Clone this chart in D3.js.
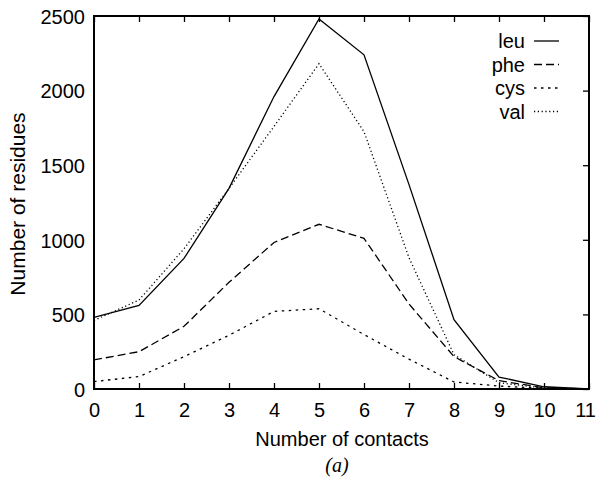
<!DOCTYPE html>
<html>
<head>
<meta charset="utf-8">
<script src="https://cdn.jsdelivr.net/npm/d3@7"></script>
<style>
  html, body { margin: 0; padding: 0; background: #fff; }
  svg { display: block; }
  text { font-family: "Liberation Sans", Arial, Helvetica, sans-serif; fill: #000; }
</style>
</head>
<body>
<svg id="chart" width="596" height="477"></svg>
<script>
// Residue counts by number of contacts
const contacts = [0, 1, 2, 3, 4, 5, 6, 7, 8, 9, 10, 11];
const leu = [480, 560, 875, 1345, 1960, 2480, 2240, 1370, 465, 80, 15, 0];
const phe = [195, 250, 420, 715, 982, 1104, 1010, 570, 217, 56, 8, 0];
const cys = [50, 83, 217, 360, 520, 538, 365, 200, 47, 20, 4, 0];
const val = [460, 596, 940, 1345, 1760, 2180, 1725, 880, 230, 42, 6, 0];

const seriesNames = ["leu", "phe", "cys", "val"];
const seriesValues = [leu, phe, cys, val];
const dashes = [null, "8,4", "2.5,4.5", "1.2,2.6"];

const yTicks = [0, 500, 1000, 1500, 2000, 2500];
const xTicks = contacts;

const W = 596, H = 477;
const margin = { left: 94, right: 7, top: 16, bottom: 88 };
const svg = d3.select("#chart");

const x = d3.scaleLinear().domain([0, 11]).range([margin.left, W - margin.right]);
const y = d3.scaleLinear().domain([0, 2500]).range([H - margin.bottom, margin.top]);

const tick = 6;
const fs = 20;

// bottom axis with inward ticks
const gx = svg.append("g").attr("transform", `translate(0,${y(0)})`)
  .call(d3.axisBottom(x).tickValues(xTicks).tickSize(-tick).tickPadding(tick + 8).tickFormat(d3.format("d")));
// top mirror ticks
const gxt = svg.append("g").attr("transform", `translate(0,${y(2500)})`)
  .call(d3.axisTop(x).tickValues(xTicks).tickSize(-tick).tickFormat(""));
// left axis labels
const gy = svg.append("g").attr("transform", `translate(${x(0)},0)`)
  .call(d3.axisLeft(y).tickValues(yTicks).tickSize(0).tickPadding(9).tickFormat(d3.format("d")));
// right mirror ticks
const gyr = svg.append("g").attr("transform", `translate(${x(11)},0)`)
  .call(d3.axisRight(y).tickValues(yTicks).tickSize(-tick).tickFormat(""));

[gx, gxt, gy, gyr].forEach(g => {
  g.select(".domain").remove();
  g.selectAll(".tick line").attr("stroke", "#000").attr("stroke-width", 1.3);
  g.selectAll("text").style("font-size", fs + "px")
    .style("font-family", '"Liberation Sans", Arial, sans-serif').attr("fill", "#000");
});
gy.selectAll("text").attr("dy", "0.36em");
// keep the last x label inside the canvas
gx.selectAll(".tick text").filter(d => d === 11).attr("dx", -4);

// frame
svg.append("rect")
  .attr("x", x(0)).attr("y", y(2500))
  .attr("width", x(11) - x(0)).attr("height", y(0) - y(2500))
  .attr("fill", "none").attr("stroke", "#000").attr("stroke-width", 2);

// series lines
const line = d3.line().x((d, i) => x(contacts[i])).y(d => y(d));
seriesValues.forEach((vals, k) => {
  svg.append("path")
    .datum(vals)
    .attr("d", line)
    .attr("fill", "none")
    .attr("stroke", "#000")
    .attr("stroke-width", 1.3)
    .attr("stroke-dasharray", dashes[k]);
});

// legend
const legY = [41, 64.5, 88, 111.5];
seriesNames.forEach((name, k) => {
  svg.append("text")
    .attr("x", 525).attr("y", legY[k]).attr("dy", "0.36em")
    .attr("text-anchor", "end")
    .style("font-size", fs + "px")
    .text(name);
  svg.append("line")
    .attr("x1", 534).attr("x2", 559)
    .attr("y1", legY[k]).attr("y2", legY[k])
    .attr("stroke", "#000").attr("stroke-width", 1.3)
    .attr("stroke-dasharray", dashes[k]);
});

// axis titles
svg.append("text")
  .attr("x", 342).attr("y", 446)
  .attr("text-anchor", "middle")
  .style("font-size", fs + "px")
  .text("Number of contacts");

svg.append("text")
  .attr("transform", "translate(25,204) rotate(-90)")
  .attr("text-anchor", "middle")
  .style("font-size", "21px")
  .text("Number of residues");

// panel caption
svg.append("text")
  .attr("x", 337).attr("y", 472)
  .attr("text-anchor", "middle")
  .style("font-family", '"Liberation Serif", "Times New Roman", serif')
  .style("font-style", "italic")
  .style("font-size", "20px")
  .text("(a)");
</script>
</body>
</html>
